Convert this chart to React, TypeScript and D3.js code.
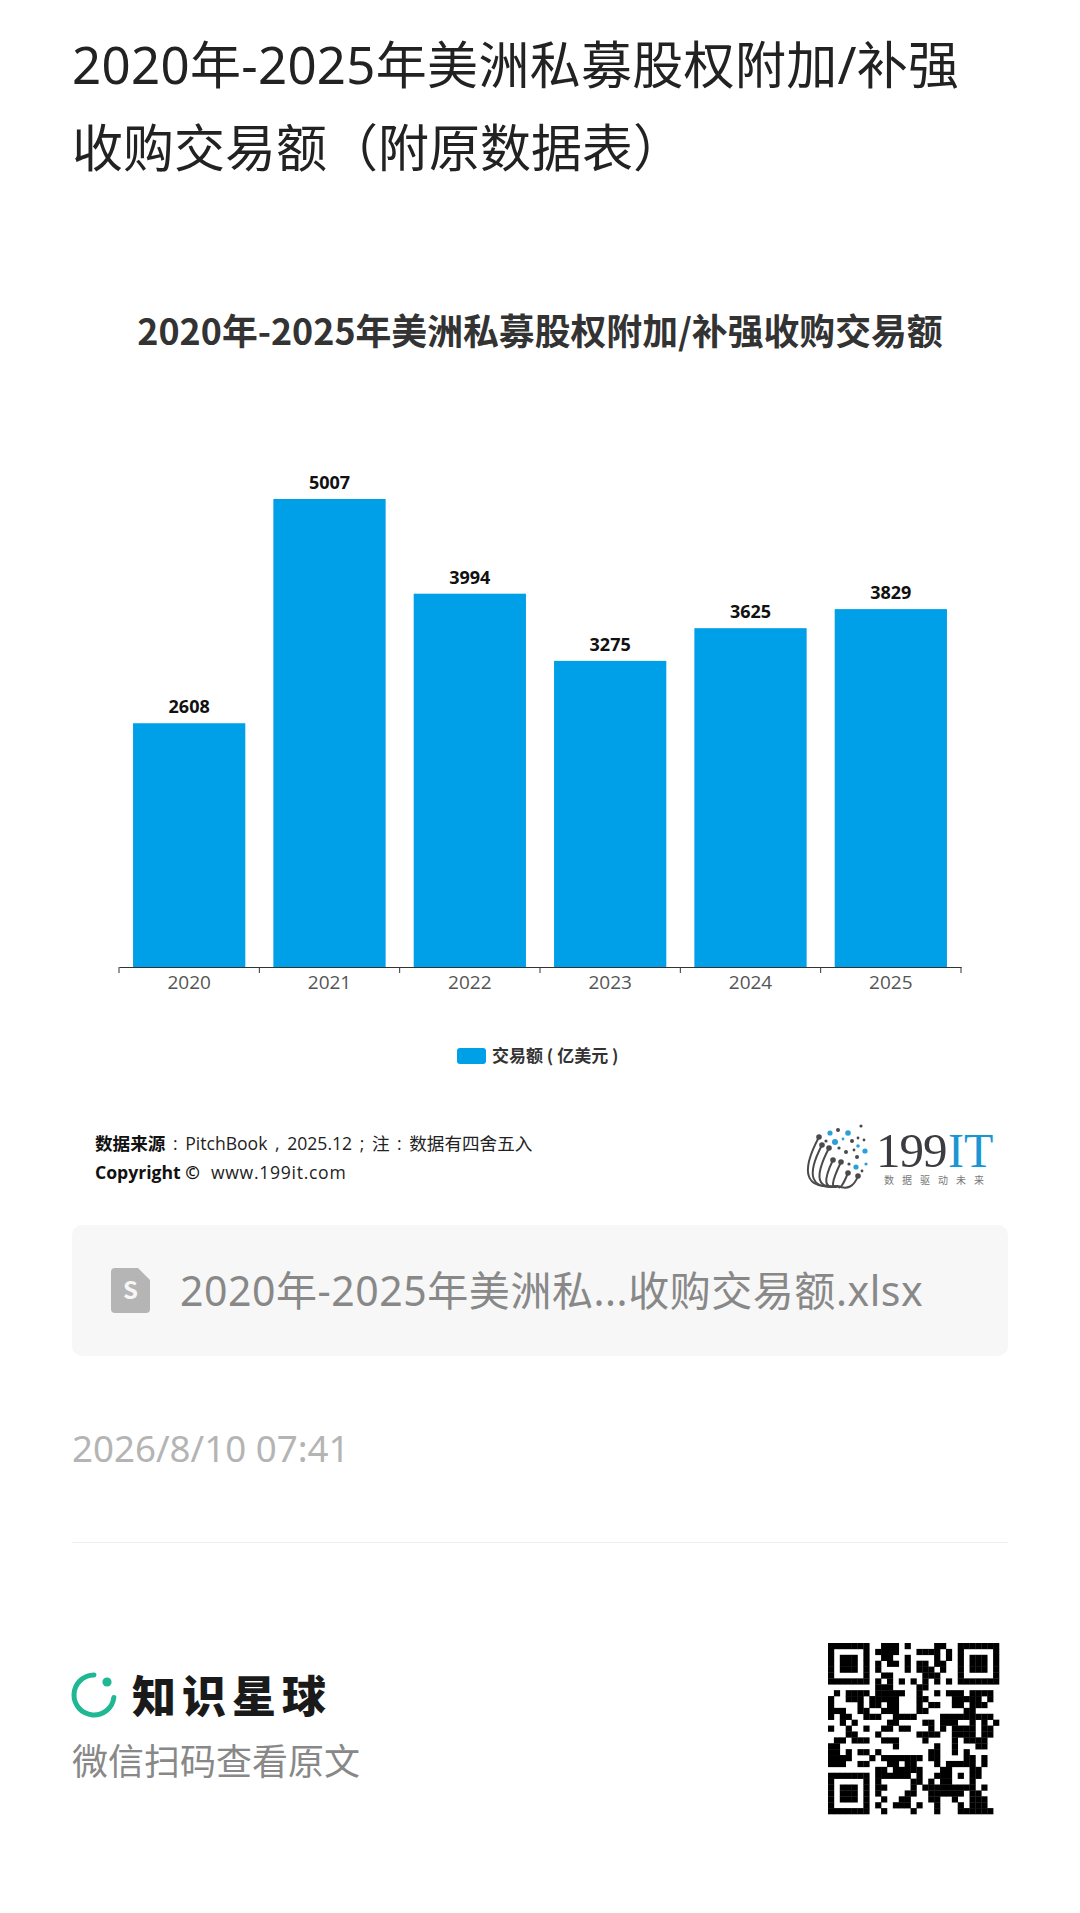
import React, { useEffect, useRef } from 'react';
import * as d3 from 'd3';

const years = ['2020', '2021', '2022', '2023', '2024', '2025'];
const dealValues = [2608, 5007, 3994, 3275, 3625, 3829];
const seriesName = '交易额 ( 亿美元 )';

const pageTitle = ['2020年-2025年美洲私募股权附加/补强', '收购交易额（附原数据表）'];
const chartTitle = '2020年-2025年美洲私募股权附加/补强收购交易额';
const fileName = '2020年-2025年美洲私...收购交易额.xlsx';
const stamp = '2026/8/10 07:41';

// qr modules
const qrRows = [
  '11111110011101000011001111111',
  '10000010111100011110101000001',
  '10111010011001000010101011101',
  '10111010101101011011001011101',
  '10111010100001011101001011101',
  '10000010011000001110001000001',
  '11111110101010101010101111111',
  '00000000111000011000000000000',
  '01011110111110010010111011110',
  '10011101111100011000011111010',
  '10000101101100010110011011100',
  '11100110011100011000000110000',
  '10110011100111100001111111110',
  '00101000001100001101110010101',
  '10010010011011000101011110110',
  '00011000100000011110011110110',
  '01101110011100001000010111100',
  '11000000000100000010010001100',
  '11010110100000000110010100000',
  '11110001011111110110000110100',
  '11100110001101100010111110100',
  '00000000110111110001100011000',
  '11111110111111010011101011000',
  '10000010100000110101100010000',
  '10111010110000101111111110100',
  '10111010100001100111111011000',
  '10111010010011000110010011100',
  '10000010100111010010001011100',
  '11111110010000100010001111110',
];

// logo dots of the 199IT mark: x, y, r, blue or not
const logoDots: [number, number, number, number][] = [
  [830, 1133, 2.6, 1], [838, 1130, 2, 0], [848, 1133, 2.8, 1], [861, 1126, 1.6, 0],
  [826, 1141, 1.6, 0], [835, 1142, 3, 1], [843, 1139, 1.4, 1], [852, 1141, 2, 0],
  [858, 1138, 1.4, 0], [864, 1140, 1.4, 0], [839, 1148, 1.6, 0], [846, 1152, 2, 0],
  [854, 1150, 1.4, 0], [858, 1146, 1.8, 1], [865, 1151, 2.6, 1], [857, 1157, 2, 0],
  [866, 1164, 1.6, 1], [856, 1167, 2.6, 1], [862, 1171, 1.4, 0], [849, 1164, 1.6, 0],
];
// ball ends of the logo's curved stems
const logoStems: [number, number][] = [
  [819, 1137], [822, 1145], [829, 1148], [833, 1160], [841, 1162], [848, 1173], [858, 1176],
];

const App = () => {
  const svgRef = useRef<SVGSVGElement | null>(null);

  useEffect(() => {
    if (!svgRef.current) return;
    const cjk = '"Noto Sans CJK SC", "Noto Sans", sans-serif';
    const mixed = '"Noto Sans", "Noto Sans CJK SC", sans-serif';
    const open = '"Open Sans", "Noto Sans CJK SC", sans-serif';
    const svg = d3.select(svgRef.current);
    svg.selectAll('*').remove();

    const label = (x: number, y: number, text: string, size: number, fill: string, weight = 400, anchor = 'start', family = cjk) =>
      svg.append('text')
        .attr('x', x)
        .attr('y', y)
        .attr('text-anchor', anchor)
        .style('font-family', family)
        .style('font-size', `${size}px`)
        .style('font-weight', weight)
        .style('fill', fill)
        .text(text);

    // Page heading
    label(72, 84, pageTitle[0], 51, '#222222', 400, 'start', mixed).style('letter-spacing', '0.3px');
    label(72, 167, pageTitle[1], 51, '#222222');
    label(540, 345, chartTitle, 35.85, '#333333', 700, 'middle');

    // Scales
    const x = d3.scaleBand().domain(years).range([119, 961]).paddingInner(0.2).paddingOuter(0.1);
    const y = d3.scaleLinear().domain([0, 5007]).range([967, 499]);

    // Bars
    svg.append('g')
      .selectAll('rect')
      .data(dealValues)
      .join('rect')
      .attr('x', (_, i) => x(years[i])!)
      .attr('y', d => y(d))
      .attr('width', x.bandwidth())
      .attr('height', d => y(0) - y(d))
      .attr('fill', '#00a0e9');

    // Value labels
    svg.append('g')
      .selectAll('text')
      .data(dealValues)
      .join('text')
      .attr('x', (_, i) => x(years[i])! + x.bandwidth() / 2)
      .attr('y', d => y(d) - 10)
      .attr('text-anchor', 'middle')
      .style('font-family', '"Open Sans", sans-serif')
      .style('font-size', '18px')
      .style('font-weight', 700)
      .style('fill', '#111111')
      .text(d => d);

    // X axis, ticks sit on the band edges
    const axis = svg.append('g')
      .attr('transform', `translate(0,${y(0)})`)
      .call(d3.axisBottom(x).tickSize(0).tickPadding(9));
    axis.select('.domain').attr('stroke', '#333333').attr('stroke-width', 1.2);
    axis.selectAll('text')
      .style('font-family', '"Open Sans", sans-serif')
      .style('font-size', '19px')
      .style('fill', '#555555');
    const edges = [...years.map(d => x(d)! - (x.step() - x.bandwidth()) / 2), 961];
    axis.selectAll('line.edge')
      .data(edges)
      .join('line')
      .attr('class', 'edge')
      .attr('x1', d => d)
      .attr('x2', d => d)
      .attr('y2', 6)
      .attr('stroke', '#333333');

    // Legend
    svg.append('rect')
      .attr('x', 457)
      .attr('y', 1048)
      .attr('width', 29)
      .attr('height', 16)
      .attr('rx', 3)
      .attr('fill', '#00a0e9');
    label(492, 1062, seriesName, 17, '#333333', 700);

    // Source lines
    const source = label(95, 1150, '数据来源', 17.6, '#111111', 700, 'start', open).style('word-spacing', '3px');
    source.append('tspan').style('font-weight', 400).style('fill', '#222222')
      .text(' : PitchBook , 2025.12 ; 注 : 数据有四舍五入');
    const copyright = label(95, 1179, 'Copyright ©', 17.6, '#111111', 700, 'start', open);
    copyright.append('tspan').attr('dx', 11).style('font-weight', 400).style('fill', '#222222').style('letter-spacing', '0.7px')
      .text('www.199it.com');

    // 199IT logo
    const stemBase: [number, number] = [838, 1186];
    const logo = svg.append('g');
    logo.selectAll('path')
      .data(logoStems)
      .join('path')
      .attr('d', d => `M${d[0]},${d[1]} Q${d[0] - 0.6 * (stemBase[1] - d[1])},1192 ${stemBase[0]},${stemBase[1]}`)
      .attr('fill', 'none')
      .attr('stroke', '#4a4a4d')
      .attr('stroke-width', 2);
    logo.selectAll('circle.ball')
      .data(logoStems)
      .join('circle')
      .attr('class', 'ball')
      .attr('cx', d => d[0])
      .attr('cy', d => d[1])
      .attr('r', 2.8)
      .attr('fill', '#4a4a4d');
    logo.selectAll('circle.dot')
      .data(logoDots)
      .join('circle')
      .attr('class', 'dot')
      .attr('cx', d => d[0])
      .attr('cy', d => d[1])
      .attr('r', d => d[2])
      .attr('fill', d => (d[3] ? '#2a9fd8' : '#4a4a4d'));
    svg.append('text').attr('x', 876).attr('y', 1167)
      .style('font-family', '"Liberation Serif", serif').style('font-size', '49px').style('fill', '#3c3c40')
      .style('letter-spacing', '-1px').text('199');
    svg.append('text').attr('x', 948).attr('y', 1167)
      .style('font-family', '"Liberation Serif", serif').style('font-size', '48px').style('fill', '#1a96d4')
      .text('IT');
    label(884, 1184, '数据驱动未来', 10, '#777777').style('letter-spacing', '8px');

    // File card
    svg.append('rect')
      .attr('x', 72)
      .attr('y', 1225)
      .attr('width', 936)
      .attr('height', 131)
      .attr('rx', 10)
      .attr('fill', '#f7f7f7');
    svg.append('path')
      .attr('d', 'M115,1268 H138 L150,1280 V1309 Q150,1313 146,1313 H115 Q111,1313 111,1309 V1272 Q111,1268 115,1268 Z')
      .attr('fill', '#b5b5b5');
    label(130.5, 1299, 'S', 24, '#f7f7f7', 700, 'middle');
    label(180, 1306, fileName, 41, '#888888', 400, 'start', mixed).style('letter-spacing', '0.55px');

    // Time stamp and divider
    label(72, 1462, stamp, 36.7, '#b4b4b4', 400, 'start', mixed);
    svg.append('line')
      .attr('x1', 72)
      .attr('x2', 1008)
      .attr('y1', 1542.5)
      .attr('y2', 1542.5)
      .attr('stroke', '#eeeeee');

    // Brand
    const ring = d3.arc().innerRadius(17.5).outerRadius(22.5).cornerRadius(2.5);
    svg.append('path')
      .attr('transform', 'translate(94,1695)')
      .attr('d', ring({ startAngle: Math.PI / 2, endAngle: Math.PI * 2 + 0.12 } as any)!)
      .attr('fill', '#1fb794');
    svg.append('circle').attr('cx', 107).attr('cy', 1682).attr('r', 4.6).attr('fill', '#1fb794');
    label(132, 1713, '知识星球', 44, '#1a1a1a', 900).style('letter-spacing', '6px');
    label(72, 1775, '微信扫码查看原文', 36, '#888888');

    // QR code
    const qrX = d3.scaleBand<number>().domain(d3.range(29)).range([828, 999]);
    const qrY = d3.scaleBand<number>().domain(d3.range(29)).range([1643, 1814]);
    svg.append('g')
      .selectAll('g')
      .data(qrRows)
      .join('g')
      .each(function (row, r) {
        d3.select(this)
          .selectAll('rect')
          .data(row.split('').map((v, c) => ({ v, c })).filter(m => m.v === '1'))
          .join('rect')
          .attr('x', m => qrX(m.c)!)
          .attr('y', qrY(r)!)
          .attr('width', qrX.bandwidth() + 0.3)
          .attr('height', qrY.bandwidth() + 0.3)
          .attr('fill', '#000000');
      });
  }, []);

  return (
    <div>
      <style>{'body { margin: 0; background: #ffffff; }'}</style>
      <svg ref={svgRef} width={1080} height={1913} style={{ display: 'block' }} />
    </div>
  );
};

export default App;
